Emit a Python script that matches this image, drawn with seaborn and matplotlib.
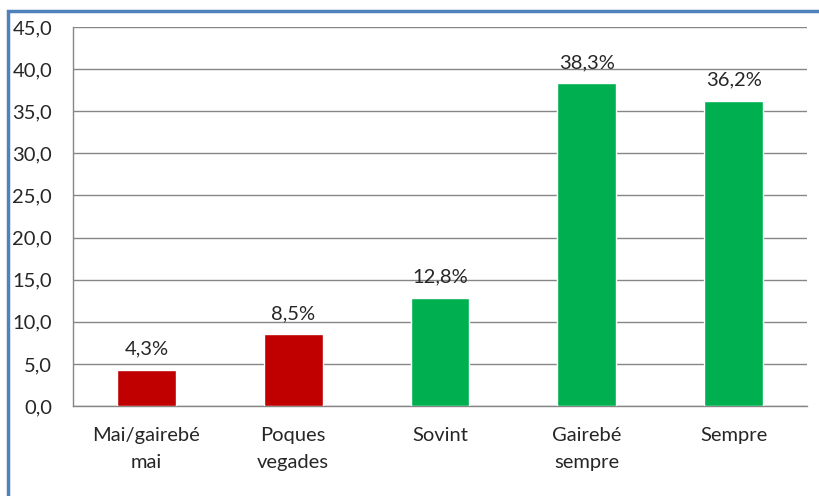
import matplotlib
matplotlib.use("Agg")
import matplotlib.pyplot as plt
import seaborn as sns
import pandas as pd
from matplotlib.patches import Rectangle

categories = ["Mai/gairebé\nmai", "Poques\nvegades", "Sovint", "Gairebé\nsempre", "Sempre"]
values = [4.3, 8.5, 12.8, 38.3, 36.2]
labels = ["4,3%", "8,5%", "12,8%", "38,3%", "36,2%"]
colors = ["#C00000", "#C00000", "#00B050", "#00B050", "#00B050"]
yticks = [0, 5, 10, 15, 20, 25, 30, 35, 40, 45]
ytick_labels = ["0,0", "5,0", "10,0", "15,0", "20,0", "25,0", "30,0", "35,0", "40,0", "45,0"]

sns.set_style("white")
plt.rcParams["font.family"] = ["Lato", "DejaVu Sans"]

FS = 14.5

fig = plt.figure(figsize=(8.2, 4.96), dpi=100)
ax = fig.add_axes([73/820, 1-406/496, (807-73)/820, (406-27)/496])

df = pd.DataFrame({"cat": categories, "val": values})
sns.barplot(data=df, x="cat", y="val", hue="cat", palette=colors, legend=False,
            width=0.4, ax=ax, saturation=1, zorder=3)

ax.set_ylim(0, 45)
ax.set_xlim(-0.5, 4.5)
ax.set_yticks(yticks)
ax.set_yticklabels(ytick_labels, fontsize=FS)
ax.set_xlabel("")
ax.set_ylabel("")
for t in ax.get_xticklabels():
    t.set_fontsize(FS)
    t.set_linespacing(1.75)
ax.tick_params(axis="x", which="major", length=0, pad=15)
ax.set_xticks([i + 0.5 for i in range(-1, 5)], minor=True)
ax.tick_params(axis="x", which="minor", length=6, color="#868686", width=1)
ax.tick_params(axis="y", length=6, color="#868686", width=1, direction="out", pad=9)
ax.yaxis.grid(True, color="#868686", linewidth=1, zorder=0)
ax.set_axisbelow(True)
for s in ["top", "right"]:
    ax.spines[s].set_visible(False)
for s in ["left", "bottom"]:
    ax.spines[s].set_color("#868686")
    ax.spines[s].set_linewidth(1)

for i, (v, lab) in enumerate(zip(values, labels)):
    ax.annotate(lab, (i, v), xytext=(0, 9), textcoords="offset points",
                ha="center", va="bottom", fontsize=FS)

fig.patches.append(Rectangle((8/820, -0.1), 1.2, 1 - 11/496 + 0.1,
                             transform=fig.transFigure, fill=False,
                             edgecolor="#4F81BD", linewidth=2.5, zorder=10))

fig.savefig("out.png", dpi=100)
